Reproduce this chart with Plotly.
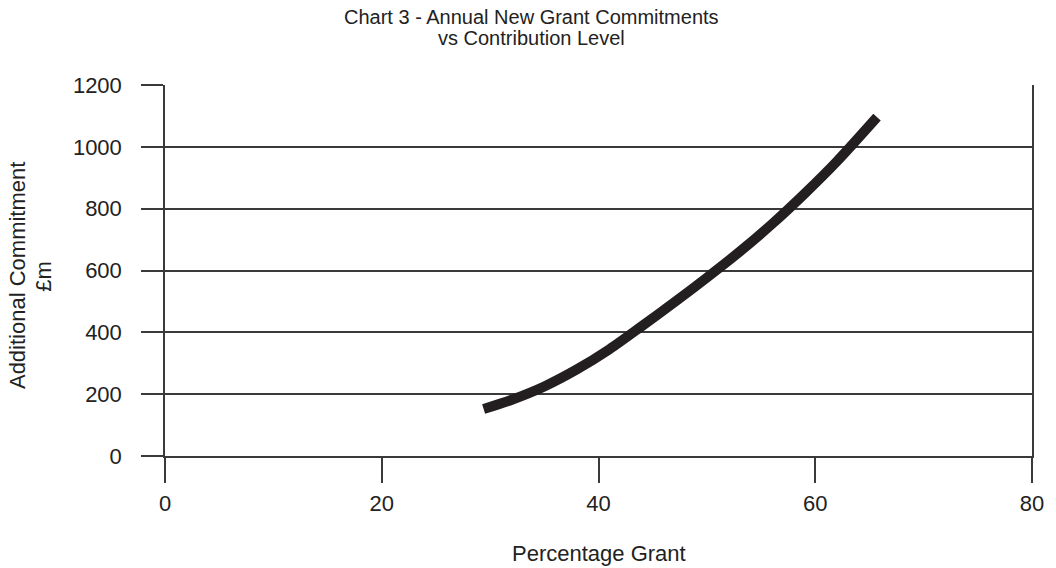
import plotly.graph_objects as go

# Percentage grant vs additional commitment (£m)
pct_grant = [29.4, 32, 35, 38, 41, 44, 47, 50, 53, 56, 59, 62, 65.7]
commitment = [152, 182, 225, 280, 345, 420, 497, 577, 660, 750, 848, 953, 1096]

x_ticks = [0, 20, 40, 60, 80]
y_ticks = [0, 200, 400, 600, 800, 1000, 1200]

FONT = "Liberation Sans, Arial, sans-serif"
INK = "#231f20"
RULE = "#3a3a3a"

fig = go.Figure(
    go.Scatter(
        x=pct_grant,
        y=commitment,
        mode="lines",
        line=dict(color=INK, width=10, shape="spline", smoothing=0.8),
        hoverinfo="x+y",
        showlegend=False,
    )
)

fig.update_layout(
    width=1056,
    height=568,
    margin=dict(l=165, r=12, t=85, b=112),
    paper_bgcolor="white",
    plot_bgcolor="white",
    font=dict(family=FONT, size=22, color="#222222"),
    xaxis=dict(
        range=[0, 80],
        tickvals=x_ticks,
        ticks="outside",
        ticklen=25,
        tickwidth=1.5,
        tickcolor=RULE,
        ticklabelstandoff=2,
        showgrid=False,
        zeroline=False,
        showline=True,
        linecolor=RULE,
        linewidth=1.5,
        tickfont=dict(size=22),
    ),
    yaxis=dict(
        range=[0, 1200],
        tickvals=y_ticks,
        ticks="outside",
        ticklen=22,
        tickwidth=1.5,
        tickcolor=RULE,
        ticklabelstandoff=15,
        showgrid=True,
        gridcolor=RULE,
        gridwidth=1.5,
        zeroline=False,
        showline=True,
        mirror=True,
        linecolor=RULE,
        linewidth=1.5,
        tickfont=dict(size=22),
    ),
    annotations=[
        dict(text="Chart 3 - Annual New Grant Commitments", xref="paper", yref="paper",
             x=(537 - 165) / 879, y=1 + (85 - 17) / 371, xanchor="center", yanchor="middle",
             showarrow=False, font=dict(size=20)),
        dict(text="vs Contribution Level", xref="paper", yref="paper",
             x=(537 - 165) / 879, y=1 + (85 - 38) / 371, xanchor="center", yanchor="middle",
             showarrow=False, font=dict(size=20)),
        dict(text="Additional Commitment", xref="paper", yref="paper",
             x=(15 - 165) / 879, y=(456 - 276) / 371, xanchor="center", yanchor="middle",
             textangle=-90, showarrow=False, font=dict(size=22)),
        dict(text="£m", xref="paper", yref="paper",
             x=(41 - 165) / 879, y=(456 - 276) / 371, xanchor="center", yanchor="middle",
             textangle=-90, showarrow=False, font=dict(size=22)),
        dict(text="Percentage Grant", xref="paper", yref="paper",
             x=0.5, y=-(553 - 456) / 371, xanchor="center", yanchor="middle",
             showarrow=False, font=dict(size=22)),
    ],
)

fig.write_html("out.html")
